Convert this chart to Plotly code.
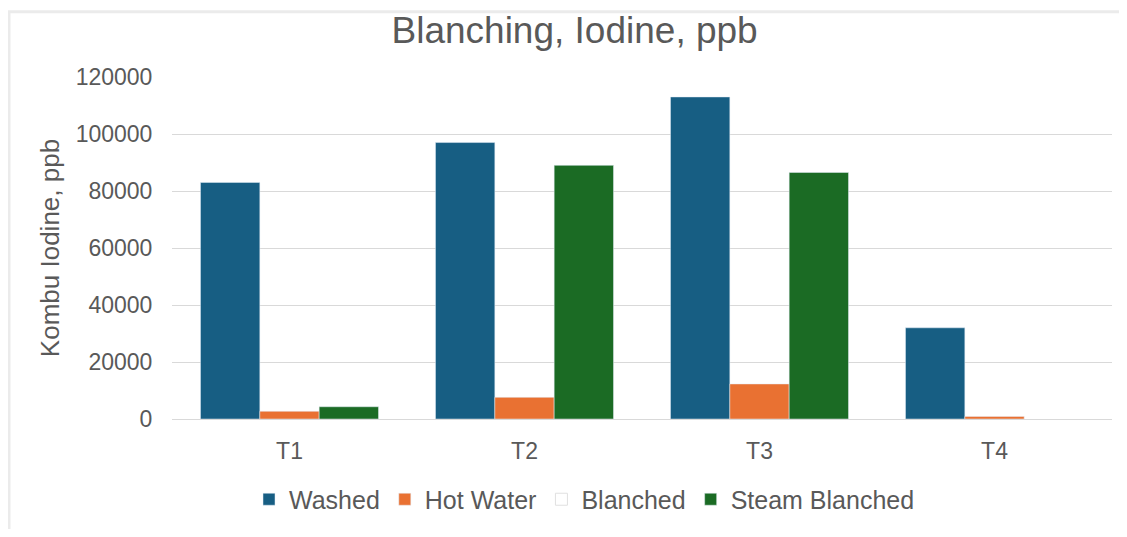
import plotly.graph_objects as go

categories = ["T1", "T2", "T3", "T4"]
washed = [83000, 97000, 113000, 32000]
hot_water = [2700, 7600, 12300, 900]
steam_blanched = [4300, 89000, 86500, None]
y_ticks = [0, 20000, 40000, 60000, 80000, 100000, 120000]

FONT = "Liberation Sans, Arial, sans-serif"
GRAY = "#595959"
BW = 0.2525
PLOT_H = 357

fig = go.Figure()
fig.add_trace(go.Bar(name="Washed", x=categories, y=washed, marker_color="#175E83",
                     width=BW, offset=-1.5 * BW))
fig.add_trace(go.Bar(name="Hot Water", x=categories, y=hot_water, marker_color="#E97132",
                     width=BW, offset=-0.5 * BW))
fig.add_trace(go.Bar(name="Blanched", x=categories, y=[None] * 4,
                     marker=dict(color="#FFFFFF", line=dict(color="#E0E0E0", width=1)),
                     width=BW, offset=0.5 * BW))
fig.add_trace(go.Bar(name="Steam Blanched", x=categories, y=steam_blanched, marker_color="#1B6B24",
                     width=BW, offset=0.5 * BW))

fig.update_layout(
    width=1111, height=521,
    barmode="overlay",
    paper_bgcolor="white", plot_bgcolor="white",
    margin=dict(l=164, r=7, t=69, b=521 - 69 - PLOT_H),
    font=dict(family=FONT, color=GRAY),
    title=dict(text="Blanching, Iodine, ppb", x=0.51, xanchor="center", y=0.957, yanchor="middle",
               font=dict(size=37, color=GRAY, family=FONT)),
    xaxis=dict(showgrid=False, showline=True, linecolor="#D9D9D9", linewidth=1,
               ticks="outside", ticklen=11, tickcolor="rgba(0,0,0,0)",
               tickfont=dict(size=23, color=GRAY), range=[-0.5, 3.5]),
    yaxis=dict(range=[0, 120000], tickvals=y_ticks, ticktext=[str(v) for v in y_ticks],
               showgrid=True, gridcolor="#D9D9D9", gridwidth=1, zeroline=False,
               ticks="outside", ticklen=14, tickcolor="rgba(0,0,0,0)",
               tickfont=dict(size=23, color=GRAY),
               title=dict(text="Kombu Iodine, ppb", font=dict(size=26, color=GRAY), standoff=8)),
    legend=dict(orientation="h", x=(249 - 172) / 940, xanchor="left",
                y=-84 / PLOT_H, yanchor="middle",
                font=dict(size=25, color=GRAY), itemwidth=30, tracegroupgap=0),
    shapes=[
        dict(type="line", xref="paper", yref="paper", x0=-0.2, x1=1.05,
             y0=(PLOT_H + 68) / PLOT_H, y1=(PLOT_H + 68) / PLOT_H,
             line=dict(color="#EBEBEB", width=3)),
        dict(type="line", xref="paper", yref="paper", x0=-0.1734, x1=-0.1734,
             y0=-0.4, y1=(PLOT_H + 68) / PLOT_H,
             line=dict(color="#EBEBEB", width=3)),
    ],
)

fig.write_html("out.html")
